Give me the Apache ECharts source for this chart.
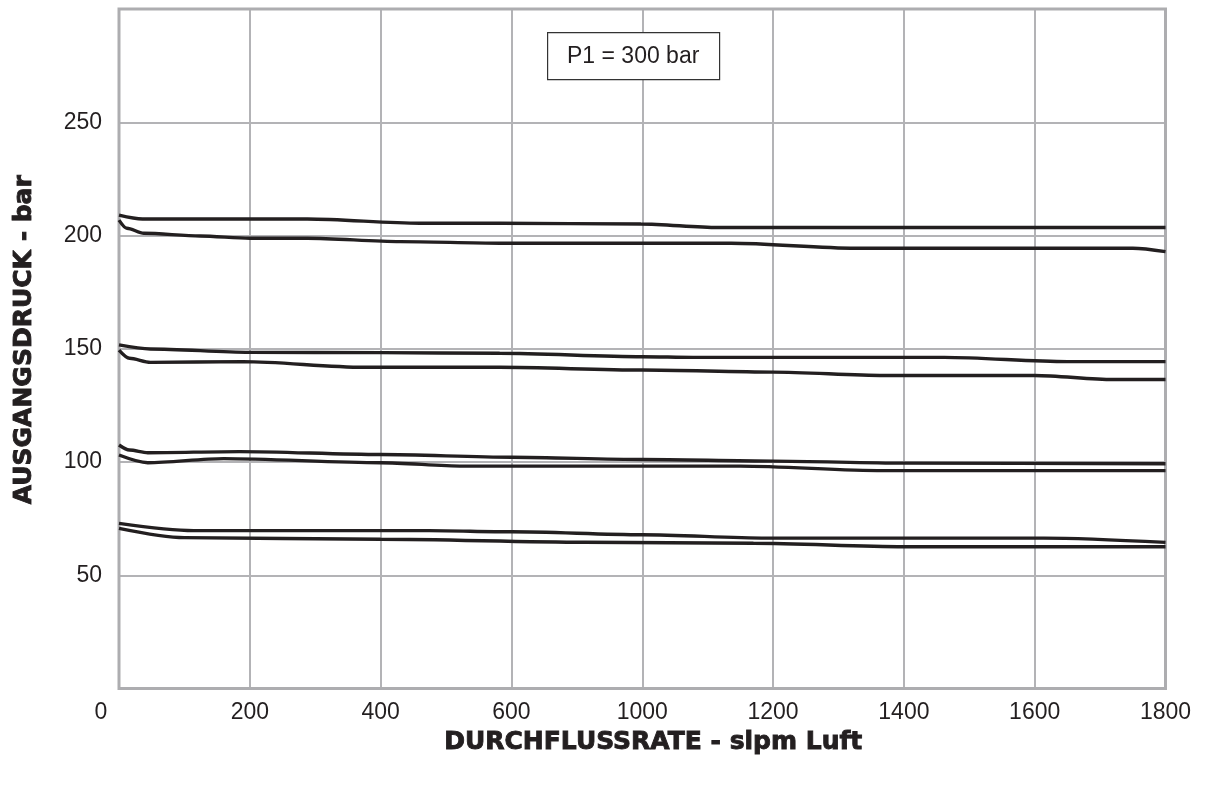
<!DOCTYPE html>
<html>
<head>
<meta charset="utf-8">
<script src="https://cdn.jsdelivr.net/npm/echarts@6/dist/echarts.min.js"></script>
<style>html,body{margin:0;padding:0;background:#fff}#c{width:1206px;height:787px}</style>
</head>
<body>
<div id="c"></div>
<script>
// x positions are axis slots (0..8), labelled with xLabels
var xLabels = ['0', '200', '400', '600', '1000', '1200', '1400', '1600', '1800'];
var yTicks = [50, 100, 150, 200, 250];

var lineA = [[0,209.0],[0.18,207.3],[1.44,207.3],[2.30,205.4],[2.91,205.4],[3.99,205.1],[4.58,203.5],[8,203.5]];
var lineB = [[0,206.8],[0.06,203.2],[0.19,201.0],[0.62,199.8],[1.0,198.8],[1.44,198.8],[2.15,197.3],[2.91,196.6],[4.68,196.6],[5.63,194.4],[7.75,194.4],[8,192.9]];
var lineC = [[0,151.7],[0.24,149.9],[1.0,148.4],[2.0,148.3],[2.91,148.0],[4.0,146.5],[4.39,146.2],[6.31,146.2],[7.25,144.3],[8,144.3]];
var lineD = [[0,149.4],[0.08,145.8],[0.24,144.0],[0.95,144.3],[1.87,141.8],[2.91,141.8],[4.0,140.6],[5.0,139.7],[5.85,138.2],[7.0,138.2],[7.6,136.4],[8,136.4]];
var lineE = [[0,107.5],[0.08,105.3],[0.22,104.1],[0.92,104.6],[2.0,103.3],[3.0,102.1],[4.0,101.1],[5.0,100.4],[6.0,99.5],[8,99.2]];
var lineF = [[0,103.1],[0.22,99.7],[0.8,101.5],[2.0,99.7],[2.63,98.2],[4.75,98.2],[5.84,96.2],[8,96.2]];
var lineG = [[0,72.9],[0.57,69.7],[2.37,69.7],[3.0,69.2],[4.0,67.9],[4.95,66.4],[7.07,66.4],[8,64.5]];
var lineH = [[0,70.7],[0.5,66.6],[2.0,65.9],[3.56,64.6],[4.85,64.1],[6.0,62.6],[8,62.6]];

var allLines = [lineA, lineB, lineC, lineD, lineE, lineF, lineG, lineH];

var chart = echarts.init(document.getElementById('c'), null, {renderer: 'canvas'});
var labelFont = 'Liberation Sans, Arial, sans-serif';
var titleFont = 'DejaVu Sans, sans-serif';

chart.setOption({
  animation: false,
  backgroundColor: '#ffffff',
  grid: {
    left: 119, top: 9, right: 40.5, bottom: 98.5,
    containLabel: false, outerBoundsMode: 'none',
    show: true, borderColor: '#adadb0', borderWidth: 3, backgroundColor: 'transparent', z: 3
  },
  graphic: [
    {type: 'rect', left: 547, top: 32, z: 100,
     shape: {x: 0, y: 0, width: 172, height: 47},
     style: {fill: '#ffffff', stroke: '#333333', lineWidth: 1.2}},
    {type: 'text', z: 101, left: 567, top: 45,
     style: {text: 'P1 = 300 bar', fill: '#231f20', font: '23px ' + labelFont}}
  ],
  xAxis: {
    type: 'value', min: 0, max: 8, interval: 1,
    name: 'DURCHFLUSSRATE - slpm Luft',
    nameLocation: 'middle', nameGap: 40,
    nameTextStyle: {fontFamily: titleFont, fontWeight: 'bold', fontSize: 25, color: '#231f20',
      textBorderColor: '#231f20', textBorderWidth: 0.9, padding: [0, 0, 0, 22]},
    axisLine: {show: false}, axisTick: {show: false},
    axisLabel: {
      margin: 13, color: '#231f20', fontFamily: labelFont, fontSize: 23,
      formatter: function (v) {
        var i = Math.round(v);
        if (i === 0) return '{z|' + xLabels[0] + '}';
        return xLabels[i] || '';
      },
      rich: {z: {fontFamily: labelFont, fontSize: 23, color: '#231f20', padding: [0, 36, 0, 0]}}
    },
    splitLine: {show: true, lineStyle: {color: '#b3b3b6', width: 2}}
  },
  yAxis: {
    type: 'value', min: 0, max: 300, interval: 50,
    name: 'AUSGANGSDRUCK - bar',
    nameLocation: 'middle', nameGap: 82, nameRotate: 90,
    nameTextStyle: {fontFamily: titleFont, fontWeight: 'bold', fontSize: 25, color: '#231f20',
      textBorderColor: '#231f20', textBorderWidth: 0.9, padding: [0, 0, 0, 18]},
    axisLine: {show: false}, axisTick: {show: false},
    axisLabel: {
      margin: 17, color: '#231f20', fontFamily: labelFont, fontSize: 23,
      formatter: function (v) { return yTicks.indexOf(v) >= 0 ? String(v) : ''; }
    },
    splitLine: {show: true, lineStyle: {color: '#b3b3b6', width: 2}}
  },
  series: allLines.map(function (d) {
    return {
      type: 'line', data: d, smooth: 0.3, smoothMonotone: 'x', symbol: 'none', clip: true,
      lineStyle: {color: '#231f20', width: 3.4}, z: 4
    };
  })
});
</script>
</body>
</html>
